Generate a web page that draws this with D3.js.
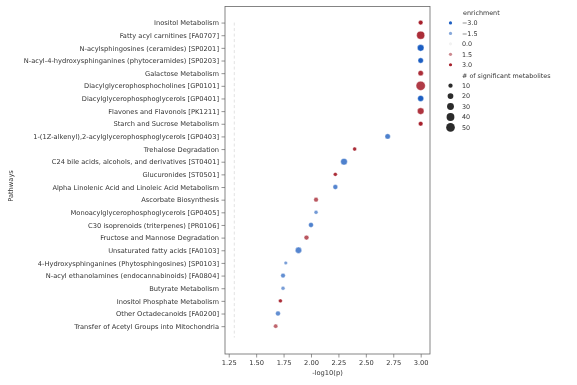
<!DOCTYPE html>
<html>
<head>
<meta charset="utf-8">
<script src="https://cdn.jsdelivr.net/npm/d3@7"></script>
<style>
  html, body { margin: 0; padding: 0; background: #fff; }
  svg { display: block; font-family: "DejaVu Sans", sans-serif; }
</style>
</head>
<body>
<svg id="chart" width="577" height="385"></svg>
<script>
const pathways = [
  "Inositol Metabolism",
  "Fatty acyl carnitines [FA0707]",
  "N-acylsphingosines (ceramides) [SP0201]",
  "N-acyl-4-hydroxysphinganines (phytoceramides) [SP0203]",
  "Galactose Metabolism",
  "Diacylglycerophosphocholines [GP0101]",
  "Diacylglycerophosphoglycerols [GP0401]",
  "Flavones and Flavonols [PK1211]",
  "Starch and Sucrose Metabolism",
  "1-(1Z-alkenyl),2-acylglycerophosphoglycerols [GP0403]",
  "Trehalose Degradation",
  "C24 bile acids, alcohols, and derivatives [ST0401]",
  "Glucuronides [ST0501]",
  "Alpha Linolenic Acid and Linoleic Acid Metabolism",
  "Ascorbate Biosynthesis",
  "Monoacylglycerophosphoglycerols [GP0405]",
  "C30 isoprenoids (triterpenes) [PR0106]",
  "Fructose and Mannose Degradation",
  "Unsaturated fatty acids [FA0103]",
  "4-Hydroxysphinganines (Phytosphingosines) [SP0103]",
  "N-acyl ethanolamines (endocannabinoids) [FA0804]",
  "Butyrate Metabolism",
  "Inositol Phosphate Metabolism",
  "Other Octadecanoids [FA0200]",
  "Transfer of Acetyl Groups into Mitochondria"
];
const negLog10P = [3.0, 3.0, 3.0, 3.0, 3.0, 3.0, 3.0, 3.0, 3.0,
  2.699, 2.398, 2.301, 2.222, 2.222, 2.046, 2.046, 2.0, 1.959, 1.886,
  1.770, 1.745, 1.745, 1.721, 1.699, 1.678];
const enrichment = [3.0, 2.8, -3.0, -3.0, 2.8, 2.6, -3.0, 2.7, 3.0,
  -2.3, 2.8, -2.3, 2.8, -2.2, 2.2, -1.8, -2.3, 2.2, -2.2,
  -1.7, -2.0, -1.7, 2.8, -2.0, 2.0];
const nSignificant = [12, 42, 28, 17, 17, 57, 22, 28, 12,
  17, 8, 28, 8, 14, 12, 8, 14, 14, 25,
  6, 12, 8, 8, 14, 10];
const xTicks = [1.25, 1.5, 1.75, 2.0, 2.25, 2.5, 2.75, 3.0];
const hueLegend = [-3.0, -1.5, 0.0, 1.5, 3.0];
const sizeLegend = [10, 20, 30, 40, 50];
const pThreshold = -Math.log10(0.05);

(function () {
const svg = d3.select("#chart");
const mLeft = 225, mRight = 430, mTop = 6.5, mBottom = 354;
const fs = 6.7;
const txt = "#333";

// grayscale filter for text (avoid coloured subpixel fringes)
const defs = svg.append("defs");
defs.append("filter").attr("id", "gray")
  .attr("filterUnits", "userSpaceOnUse")
  .attr("x", 0).attr("y", 0).attr("width", 577).attr("height", 385)
  .append("feColorMatrix").attr("type", "saturate").attr("values", 0);

const x = d3.scaleLinear().domain([1.216, 3.085]).range([mLeft, mRight]);
const y = d3.scaleLinear().domain([-1.27, 26.2]).range([mTop, mBottom]);
const color = d3.scaleLinear().domain([-3, 0, 3])
  .range(["#1c5ec2", "#f2f2f2", "#a61f2b"]).interpolate(d3.interpolateRgb).clamp(true);
const diam2 = d3.scaleLinear().domain([10, 50]).range([18.5, 75.7]);
const rad = v => Math.sqrt(Math.max(diam2(v), 6)) / 2;

// threshold line
svg.append("line")
  .attr("x1", x(pThreshold)).attr("x2", x(pThreshold))
  .attr("y1", y(0)).attr("y2", y(24.9))
  .attr("stroke", "#dadada").attr("stroke-width", 0.8)
  .attr("stroke-dasharray", "3,2.5");

// points
const data = pathways.map((p, i) => ({p, i, x: negLog10P[i], e: enrichment[i], n: nSignificant[i]}));
svg.append("g").selectAll("circle").data(data).join("circle")
  .attr("cx", d => x(d.x)).attr("cy", d => y(d.i))
  .attr("r", d => rad(d.n))
  .attr("fill", d => color(d.e))
  .attr("stroke", "#fff").attr("stroke-width", 0.4);

// frame
svg.append("rect").attr("x", mLeft).attr("y", mTop)
  .attr("width", mRight - mLeft).attr("height", mBottom - mTop)
  .attr("fill", "none").attr("stroke", "#666").attr("stroke-width", 0.8);

const tg = svg.append("g").attr("filter", "url(#gray)");

// x axis
const xAxis = d3.axisBottom(x).tickValues(xTicks).tickFormat(d3.format(".2f")).tickSize(3.5).tickPadding(2.5);
const gx = tg.append("g").attr("transform", `translate(0,${mBottom})`).call(xAxis);
gx.select(".domain").remove();
gx.selectAll("line").attr("stroke", "#666").attr("stroke-width", 0.7);
gx.selectAll("text").attr("font-size", fs).attr("fill", txt).attr("font-family", "DejaVu Sans");

// y axis
const yAxis = d3.axisLeft(y).tickValues(d3.range(pathways.length)).tickFormat(i => pathways[i]).tickSize(3.5).tickPadding(2.5);
const gy = tg.append("g").attr("transform", `translate(${mLeft},0)`).call(yAxis);
gy.select(".domain").remove();
gy.selectAll("line").attr("stroke", "#666").attr("stroke-width", 0.7);
gy.selectAll("text").attr("font-size", fs).attr("fill", txt).attr("font-family", "DejaVu Sans");

// axis labels
tg.append("text").attr("x", (mLeft + mRight) / 2).attr("y", 375)
  .attr("text-anchor", "middle").attr("font-size", fs).attr("fill", txt).text("-log10(p)");
tg.append("text").attr("transform", "translate(13,186) rotate(-90)")
  .attr("text-anchor", "middle").attr("font-size", fs).attr("fill", txt).text("Pathways");

// legend
const lx = 450.5, tx = 462, row = 10.45, y0 = 12.5;
tg.append("text").attr("x", 463).attr("y", y0 + 2.3).attr("font-size", fs - 0.3).attr("fill", txt).text("enrichment");
hueLegend.forEach((v, k) => {
  const yy = y0 + row * (k + 1);
  svg.append("circle").attr("cx", lx).attr("cy", yy).attr("r", 1.6).attr("fill", color(v));
  tg.append("text").attr("x", tx).attr("y", yy + 2.3).attr("font-size", fs - 0.3).attr("fill", txt)
    .text(d3.format(".1f")(v).replace("-", "\u2212"));
});
const ys = y0 + row * 6;
tg.append("text").attr("x", tx).attr("y", ys + 2.3).attr("font-size", fs - 0.3).attr("fill", txt).text("# of significant metabolites");
sizeLegend.forEach((v, k) => {
  const yy = ys + row * (k + 1);
  svg.append("circle").attr("cx", lx).attr("cy", yy).attr("r", rad(v)).attr("fill", "#2b2b2b");
  tg.append("text").attr("x", tx).attr("y", yy + 2.3).attr("font-size", fs - 0.3).attr("fill", txt).text(v);
});
})();
</script>
</body>
</html>
